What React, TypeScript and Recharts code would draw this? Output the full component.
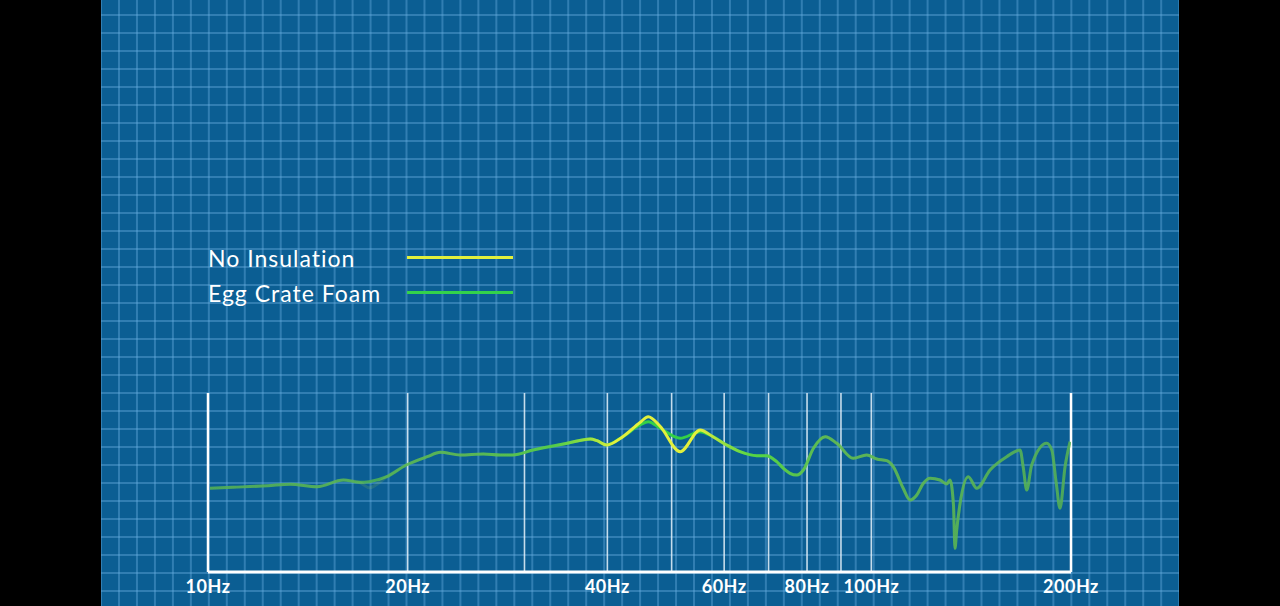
import React from "react";
import { LineChart, Line, XAxis, YAxis, ReferenceLine } from "recharts";

const freqs = [
  10.07, 10.9, 12.3, 13.3, 14.6, 16.0, 16.9, 17.5, 18.6, 19.9, 21.4, 22.4, 24.0, 26.0, 27.6, 28.8,
  30.9, 34.8, 37.7, 38.6, 39.9, 42.2, 44.8, 46.1, 48.0, 51.5, 55.2, 57.7, 60.5, 63.4, 67.2, 69.5,
  72.0, 73.7, 75.4, 77.2, 79.0, 81.8, 85.2, 88.7, 93.9, 98.4, 101.9, 105.5, 107.9, 111.7, 114.4,
  117.1, 119.8, 122.6, 126.9, 129.9, 131.4, 133.0, 133.7, 134.5, 136.1, 140.0, 144.2, 151.0, 160.0,
  167.6, 169.5, 171.5, 174.5, 183.8, 187.1, 190.0, 192.5, 195.9, 199.3,
];

const noInsulation = [
  83.7, 84.7, 86.3, 87.7, 85.3, 92, 89.7, 84.3, 95.3, 107, 115.3, 119.7, 117, 118, 117, 117,
  122, 128.7, 133, 131.3, 127, 135.3, 149.5, 155.3, 146, 120.3, 142, 135.3, 127, 120.3, 116.3, 116.3,
  110.3, 103.7, 98.7, 97, 102, 123.7, 135.3, 128.7, 113.7, 117, 113, 111.3, 105.3, 83.7, 72,
  77, 88.7, 93.7, 92, 88, 92, 67, 23.7, 42, 68.7, 95.3, 83.7, 102, 115.3,
  122, 104, 82, 107, 128.7, 122, 89, 63.7, 105.3, 130.3,
];

const eggCrateFoam = [
  83.7, 84.7, 86.3, 87.7, 85.3, 92, 89.7, 90.3, 95.3, 107, 115.3, 119.7, 117, 118, 117, 117,
  122, 128.7, 133, 131.3, 127, 135.3, 147, 150.3, 144, 133.7, 140.3, 135.3, 127, 120.3, 116.3, 116.3,
  110.3, 103.7, 98.7, 97, 102, 123.7, 135.3, 128.7, 113.7, 117, 113, 111.3, 105.3, 83.7, 72,
  77, 88.7, 93.7, 92, 88, 92, 67, 23.7, 42, 68.7, 95.3, 83.7, 102, 115.3,
  122, 104, 82, 107, 128.7, 122, 89, 63.7, 105.3, 130.3,
];

const tickFreqs = [10, 20, 40, 60, 80, 100, 200];
const gridFreqs = [10, 20, 30, 40, 50, 60, 70, 80, 90, 100, 200];
const seriesNames = ["No Insulation", "Egg Crate Foam"];
const seriesColors = ["#e2f03c", "#33d24a"];

const data = freqs.map((f, i) => ({ f, a: noInsulation[i], b: eggCrateFoam[i] }));

const FONT = "Lato, 'Open Sans', sans-serif";

export default function App() {
  return (
    <div style={{ position: "absolute", left: 0, top: 0, width: 1280, height: 606, background: "#000", overflow: "hidden" }}>
      <div
        style={{
          position: "absolute",
          left: 101,
          top: 0,
          width: 1078,
          height: 606,
          backgroundColor: "#0b5e93",
          backgroundImage:
            "linear-gradient(to right, rgba(105,175,225,0.4) 2px, transparent 2px), linear-gradient(to bottom, rgba(105,175,225,0.4) 2px, transparent 2px)",
          backgroundSize: "17.97px 18px",
          backgroundPosition: "17px 14px",
        }}
      >
        <LineChart width={1078} height={606} data={data} margin={{ top: 393, right: 108, bottom: 4, left: 107 }}>
          <defs>
            <linearGradient id="gGreen" x1="0" y1="0" x2="1" y2="0">
              <stop offset="0" stopColor="#4cae55" stopOpacity={0.85} />
              <stop offset="0.3" stopColor="#4cb455" stopOpacity={0.9} />
              <stop offset="0.44" stopColor="#34d046" stopOpacity={1} />
              <stop offset="0.64" stopColor="#34d046" stopOpacity={1} />
              <stop offset="0.72" stopColor="#4cb455" stopOpacity={0.9} />
              <stop offset="1" stopColor="#4cae55" stopOpacity={0.85} />
            </linearGradient>
            <linearGradient id="gYellow" x1="0" y1="0" x2="1" y2="0">
              <stop offset="0" stopColor="#9fd04a" stopOpacity={0.1} />
              <stop offset="0.4" stopColor="#b8e040" stopOpacity={0.2} />
              <stop offset="0.47" stopColor="#e2f03c" stopOpacity={1} />
              <stop offset="0.57" stopColor="#e2f03c" stopOpacity={1} />
              <stop offset="0.63" stopColor="#b8e040" stopOpacity={0.25} />
              <stop offset="1" stopColor="#9fd04a" stopOpacity={0.1} />
            </linearGradient>
          </defs>
          <XAxis
            dataKey="f"
            type="number"
            scale="log"
            domain={[10, 200]}
            allowDataOverflow
            ticks={tickFreqs}
            tickFormatter={(v: number) => `${v}Hz`}
            axisLine={{ stroke: "#ffffff", strokeWidth: 3 }}
            tickLine={false}
            tickSize={0}
            tickMargin={8}
            height={30}
            interval={0}
            tick={{ fill: "#ffffff", fontSize: 18, fontWeight: 700, fontFamily: FONT, letterSpacing: 0.5 }}
          />
          <YAxis hide type="number" domain={[0, 179]} allowDataOverflow />
          {gridFreqs.map((g) => (
            <ReferenceLine
              key={g}
              x={g}
              stroke={g === 10 || g === 200 ? "#ffffff" : "#e6f2fa"}
              strokeWidth={g === 10 || g === 200 ? 2.5 : 1.6}
              strokeOpacity={g === 10 || g === 200 ? 1 : 0.85}
            />
          ))}
          <Line
            type="monotone"
            dataKey="b"
            stroke="url(#gGreen)"
            strokeWidth={3}
            dot={false}
            isAnimationActive={false}
          />
          <Line
            type="monotone"
            dataKey="a"
            stroke="url(#gYellow)"
            strokeWidth={3}
            dot={false}
            isAnimationActive={false}
          />
        </LineChart>
        {seriesNames.map((name, i) => (
          <div key={name} style={{ position: "absolute", left: 0, top: 244 + i * 35, width: 1078, height: 28 }}>
            <span
              style={{
                position: "absolute",
                left: 107,
                top: 0,
                color: "#ffffff",
                fontFamily: FONT,
                fontSize: 23,
                lineHeight: "28px",
                letterSpacing: 1,
                whiteSpace: "nowrap",
              }}
            >
              {name}
            </span>
            <div
              style={{
                position: "absolute",
                left: 306,
                top: 12,
                width: 106,
                height: 3,
                background: seriesColors[i],
              }}
            />
          </div>
        ))}
      </div>
    </div>
  );
}
